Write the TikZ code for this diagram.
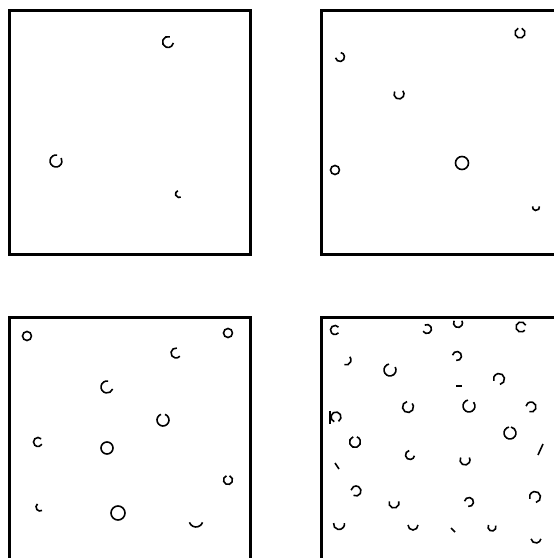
\documentclass[tikz,border=0pt]{standalone}
\usepackage{tikz}
\usetikzlibrary{positioning}

\begin{document}
\begin{tikzpicture}[
  x=1pt, y=1pt,
  panel/.style={draw, line width=3pt, minimum width=241pt, minimum height=244pt, inner sep=0pt},
  ring/.style={line width=1.6pt}
]
\useasboundingbox (0,0) rectangle (554,558);
\clip (0,0) rectangle (554,558);
% four frames
\node[panel] (tl) at (130.2,425.7) {};
\node[panel, right=67.3pt of tl] (tr) {};
\node[panel, below=60.4pt of tl] (bl) {};
\node[panel, right=67.3pt of bl] (br) {};
% blobs: x/y(from top)/radius/start/end
\foreach \x/\y/\r/\a/\b in {
  168/42/5.5/70/350, 56/161/6/80/390, 179/194/3.5/110/300,
  520/33/5/110/430, 340/57/4.5/-170/80, 399/94/5/150/400, 462/163/6.5/0/360,
  335/170/4.5/0/360, 536/207/3.5/170/370,
  27/336/4.5/0/360, 228/333/4.5/0/360, 176/353/5/80/320, 107/387/6/80/340,
  163/420/6/110/430, 38/442/4.5/45/330, 107/448/6/0/360, 228/480/4.5/110/430,
  40/507/4/130/300, 118/513/7/0/360, 196/520/7/200/340,
  335/330/4.5/40/320, 427/329/4.5/-150/120, 458/323/4.5/150/390, 521/327/5/20/320,
  346/360/5/-110/40, 390/370/6/100/390, 457/356/4.5/-100/170, 499/379/5.5/-80/200,
  336/417/5/-60/250, 408/407/5.5/100/400, 469/406/6/100/400, 531/407/5/-110/170,
  355/442/5.5/110/430, 510/433/6/100/440, 410/455/4.5/100/350, 465/460/5/150/390,
  356/491/5/-120/170, 394/503/5/160/380, 469/502/4.5/-100/170, 535/497/5.5/-80/200,
  339/524/5.5/170/370, 413/525/5/180/360, 492/527/4/150/380, 536/538/5/190/350}
  \draw[ring] ({\x+\r*cos(\a)},{558-\y+\r*sin(\a)}) arc[start angle=\a, end angle=\b, radius=\r];
% short strokes
\draw[ring] (456,172) -- (462,172);
\draw[ring] (335,95) -- (339,89);
\draw[ring] (451,30) -- (455,26);
\draw[ring] (538,103) -- (543,114);
\draw[ring] (330,147) -- (330,134);
\end{tikzpicture}
\end{document}
